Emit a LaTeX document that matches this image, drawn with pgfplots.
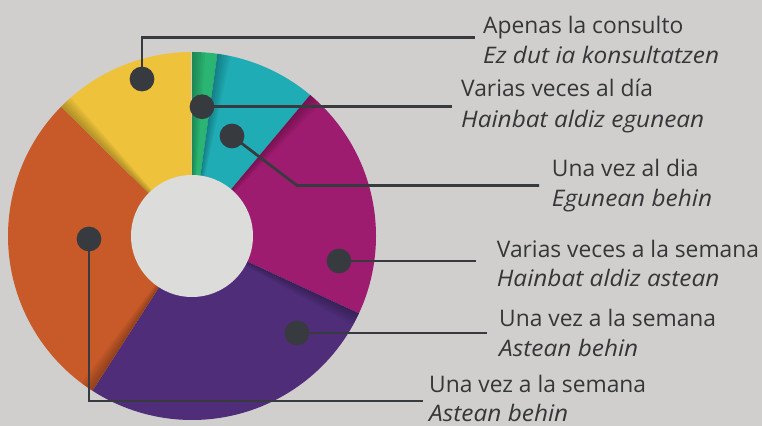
\documentclass[border=0pt]{standalone}
\usepackage{fontspec}
\setmainfont{Open Sans}[ItalicFeatures={FakeStretch=1.07}]
\usepackage{pgfplots}
\usepackage{pgfplotstable}
\pgfplotsset{compat=1.18}
\definecolor{bg}{HTML}{D0CFCD}
\definecolor{hole}{HTML}{DCDCDA}
\definecolor{cgreen}{HTML}{2AB573}
\definecolor{cteal}{HTML}{1FACB4}
\definecolor{cmagenta}{HTML}{9E1C6F}
\definecolor{cpurple}{HTML}{4F2D79}
\definecolor{corange}{HTML}{C75A28}
\definecolor{cyellow}{HTML}{EEC23A}
\definecolor{linec}{HTML}{373A3F}
\definecolor{txt}{HTML}{363638}
\tikzset{
  leader/.style={color=linec, line width=2.7bp, mark=*, mark indices={1},
     mark size=11bp, mark options={solid, fill=linec, draw=linec}},
  lab/.style={anchor=base west, inner sep=0pt, text=txt,
     font=\fontsize{22.8bp}{27bp}\selectfont}}

% share of each slice (percent), clockwise from the top
\pgfplotstableread{
pct  color
2.2  cgreen
8.9  cteal
20.8 cmagenta
27.2 cpurple
28.3 corange
12.5 cyellow
}\piedata

\begin{document}
\begin{tikzpicture}
\begin{axis}[width=762bp, height=426bp, scale only axis,
  xmin=0, xmax=762, ymin=0, ymax=426, hide axis, clip=false]
\pgfplotsextra{
  \fill[bg] (axis cs:0,0) rectangle (axis cs:762,426);
  \gdef\cum{0}
  \foreach \i in {0,...,5}{
    \pgfplotstablegetelem{\i}{pct}\of\piedata \let\p\pgfplotsretval
    \pgfplotstablegetelem{\i}{color}\of\piedata \let\c\pgfplotsretval
    \pgfmathsetmacro\a{90-3.6*\cum}
    \pgfmathsetmacro\b{90-3.6*(\cum+\p)}
    \fill[\c] (axis cs:192,190) -- ++(\a:184bp) arc[start angle=\a, end angle=\b, radius=184bp] -- cycle;
    % soft shadow along the leading edge of the slice
    \foreach \k in {1,...,6}{
      \pgfmathsetmacro\e{\a-0.7*\k}
      \fill[black, opacity=0.045] (axis cs:192,190) -- ++(\a:184bp) arc[start angle=\a, end angle=\e, radius=184bp] -- cycle;
    }
    \pgfmathsetmacro\newcum{\cum+\p}
    \global\let\cum\newcum
  }
  \fill[hole] (axis cs:192,190) circle[radius=61bp];
}
\addplot[leader] coordinates {(142,347) (142,388.3) (475,388.3)};
\addplot[leader] coordinates {(202,319.3) (452,319.3)};
\addplot[leader] coordinates {(232,290) (297,240.5) (539,240.5)};
\addplot[leader] coordinates {(339,165) (476,165)};
\addplot[leader] coordinates {(297,93) (487,93)};
\addplot[leader] coordinates {(89,187) (89,25) (423,25)};

\node[lab] at (axis cs:483,392.7) {Apenas la consulto};
\node[lab] at (axis cs:483,362.7) {\itshape Ez dut ia konsultatzen};
\node[lab] at (axis cs:461,329.3) {Varias veces al día};
\node[lab] at (axis cs:461,298.3) {\itshape Hainbat aldiz egunean};
\node[lab] at (axis cs:551.7,249.3) {Una vez al dia};
\node[lab] at (axis cs:551.7,219.3) {\itshape Egunean behin};
\node[lab] at (axis cs:496.7,168) {Varias veces a la semana};
\node[lab] at (axis cs:496.7,139.3) {\itshape Hainbat aldiz astean};
\node[lab] at (axis cs:499,99.3) {Una vez a la semana};
\node[lab] at (axis cs:499,69) {\itshape Astean behin};
\node[lab] at (axis cs:429,33) {Una vez a la semana};
\node[lab] at (axis cs:429,4.3) {\itshape Astean behin};
\end{axis}
\pgfresetboundingbox
\path[use as bounding box] (current axis.south west) rectangle (current axis.north east);
\end{tikzpicture}
\end{document}
